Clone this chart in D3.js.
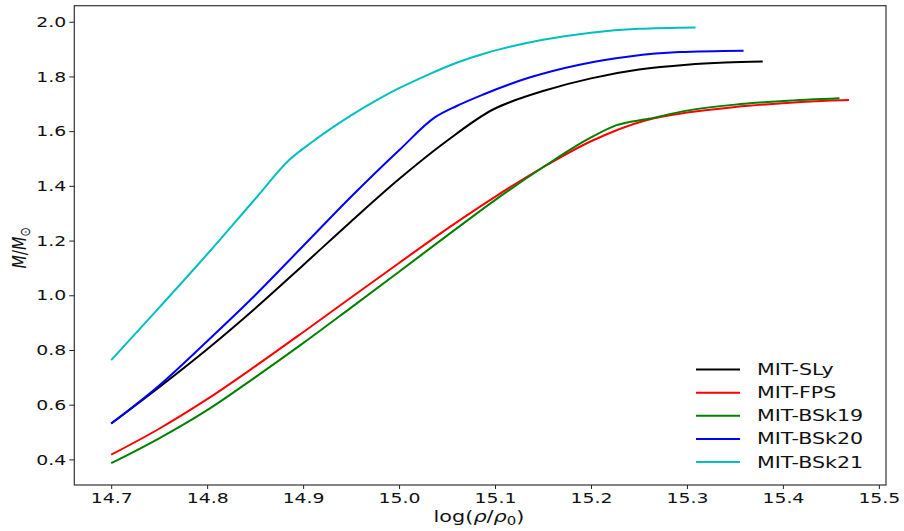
<!DOCTYPE html>
<html>
<head>
<meta charset="utf-8">
<script src="https://cdn.jsdelivr.net/npm/d3@7"></script>
<style>
  html, body { margin: 0; padding: 0; background: #fff; }
  svg { display: block; font-family: "DejaVu Sans", sans-serif; }
</style>
</head>
<body>
<svg id="chart" width="904" height="531"></svg>
<script>
// Mass versus central density for five MIT-based equations of state
const seriesNames = ["MIT-SLy", "MIT-FPS", "MIT-BSk19", "MIT-BSk20", "MIT-BSk21"];
const seriesColors = ["#000000", "#ff0000", "#008000", "#0000ff", "#00bfbf"];

const slyX   = [14.70, 14.75, 14.80, 14.85, 14.90, 14.95, 15.00, 15.05, 15.099, 15.12, 15.15, 15.20, 15.25, 15.30, 15.34, 15.379];
const slyM   = [0.531, 0.664, 0.803, 0.952, 1.110, 1.270, 1.425, 1.565, 1.681, 1.712, 1.747, 1.793, 1.825, 1.843, 1.851, 1.855];

const fpsX   = [14.70, 14.75, 14.80, 14.85, 14.90, 14.95, 15.00, 15.05, 15.10, 15.15, 15.20, 15.2575, 15.30, 15.35, 15.40, 15.45, 15.469];
const fpsM   = [0.417, 0.512, 0.620, 0.740, 0.865, 0.992, 1.118, 1.243, 1.360, 1.468, 1.563, 1.640, 1.668, 1.688, 1.702, 1.712, 1.714];

const bsk19X = [14.70, 14.75, 14.80, 14.85, 14.90, 14.95, 15.00, 15.05, 15.10, 15.15, 15.20, 15.226, 15.26, 15.30, 15.35, 15.40, 15.459];
const bsk19M = [0.386, 0.477, 0.580, 0.700, 0.825, 0.955, 1.086, 1.218, 1.348, 1.468, 1.577, 1.621, 1.645, 1.675, 1.697, 1.710, 1.720];

const bsk20X = [14.70, 14.75, 14.80, 14.85, 14.90, 14.95, 15.00, 15.038, 15.06, 15.087, 15.135, 15.188, 15.24, 15.292, 15.359];
const bsk20M = [0.531, 0.670, 0.832, 1.000, 1.180, 1.360, 1.530, 1.652, 1.692, 1.733, 1.795, 1.843, 1.873, 1.889, 1.894];

const bsk21X = [14.70, 14.75, 14.80, 14.85, 14.886, 14.91, 14.93, 14.95, 14.98, 15.00, 15.03, 15.06, 15.09, 15.12, 15.15, 15.20, 15.25, 15.309];
const bsk21M = [0.763, 0.955, 1.150, 1.352, 1.496, 1.562, 1.612, 1.658, 1.720, 1.757, 1.806, 1.850, 1.885, 1.912, 1.934, 1.960, 1.974, 1.979];

const xTicks = [14.7, 14.8, 14.9, 15.0, 15.1, 15.2, 15.3, 15.4, 15.5];
const yTicks = [0.4, 0.6, 0.8, 1.0, 1.2, 1.4, 1.6, 1.8, 2.0];

const seriesX = [slyX, fpsX, bsk19X, bsk20X, bsk21X];
const seriesM = [slyM, fpsM, bsk19M, bsk20M, bsk21M];
const series = seriesNames.map((name, i) => ({
  name,
  color: seriesColors[i],
  points: seriesX[i].map((x, j) => ({ x, m: seriesM[i][j] }))
}));

const svg = d3.select("#chart");
const margin = { left: 74.3, right: 886, top: 5.7, bottom: 485 };

// 5% padding on each side of the data range, as matplotlib does
const allX = seriesX.flat(), allM = seriesM.flat();
const [x0, x1] = d3.extent(allX), [m0, m1] = d3.extent(allM);
const px = (x1 - x0) * 0.05, pm = (m1 - m0) * 0.05;

const x = d3.scaleLinear().domain([x0 - px, x1 + px]).range([margin.left, margin.right]);
const y = d3.scaleLinear().domain([m0 - pm, m1 + pm]).range([margin.bottom, margin.top]);

const SX = 1.3;      // horizontal widening of glyphs
const tickSize = 14.5;

// curves
const line = d3.line().x(d => x(d.x)).y(d => y(d.m)).curve(d3.curveMonotoneX);
svg.append("g").selectAll("path").data(series).join("path")
  .attr("d", d => line(d.points))
  .attr("fill", "none")
  .attr("stroke", d => d.color)
  .attr("stroke-width", 2)
  .attr("stroke-linejoin", "round");

// axes
const xAxis = svg.append("g")
  .attr("transform", `translate(0,${margin.bottom})`)
  .call(d3.axisBottom(x).tickValues(xTicks).tickFormat(d3.format(".1f")).tickSize(4).tickPadding(4));
const yAxis = svg.append("g")
  .attr("transform", `translate(${margin.left},0)`)
  .call(d3.axisLeft(y).tickValues(yTicks).tickFormat(d3.format(".1f")).tickSize(5).tickPadding(3));

[xAxis, yAxis].forEach(a => {
  a.select(".domain").remove();
  a.selectAll(".tick line").attr("stroke", "#222").attr("stroke-width", 1);
  a.selectAll(".tick text")
    .attr("font-family", "DejaVu Sans")
    .attr("font-size", tickSize)
    .attr("fill", "#111");
});
xAxis.selectAll(".tick text").attr("transform", `scale(${SX},1)`);
yAxis.selectAll(".tick text")
  .attr("x", -8 / SX)
  .attr("transform", `scale(${SX},1)`);

// frame
svg.append("rect")
  .attr("x", margin.left).attr("y", margin.top)
  .attr("width", margin.right - margin.left)
  .attr("height", margin.bottom - margin.top)
  .attr("fill", "none").attr("stroke", "#333").attr("stroke-width", 1.2);

// axis labels
const xl = svg.append("text")
  .attr("transform", `translate(479,522) scale(${SX},1)`)
  .attr("text-anchor", "middle")
  .attr("font-size", 16).attr("fill", "#111");
xl.append("tspan").text("log(");
xl.append("tspan").attr("font-style", "italic").text("ρ");
xl.append("tspan").text("/");
xl.append("tspan").attr("font-style", "italic").text("ρ");
xl.append("tspan").attr("font-size", 11.5).attr("dy", 3).text("0");
xl.append("tspan").attr("dy", -3).text(")");

const yl = svg.append("text")
  .attr("transform", `translate(26,248) rotate(-90) scale(1,${SX})`)
  .attr("text-anchor", "middle")
  .attr("font-size", 15.5).attr("fill", "#111");
yl.append("tspan").attr("font-style", "italic").text("M");
yl.append("tspan").text("/");
yl.append("tspan").attr("font-style", "italic").text("M");
yl.append("tspan").attr("font-size", 11).attr("dy", 3).text("⊙");

// legend
const legend = svg.append("g");
const rowY = d3.scalePoint().domain(seriesNames).range([369.5, 462]);
const items = legend.selectAll("g").data(series).join("g")
  .attr("transform", d => `translate(0,${rowY(d.name)})`);
items.append("line")
  .attr("x1", 696).attr("x2", 740)
  .attr("stroke", d => d.color).attr("stroke-width", 2);
items.append("text")
  .attr("transform", `translate(757,0) scale(1.33,1)`)
  .attr("dy", "0.36em")
  .attr("font-size", 15.5).attr("fill", "#111")
  .text(d => d.name);
</script>
</body>
</html>
